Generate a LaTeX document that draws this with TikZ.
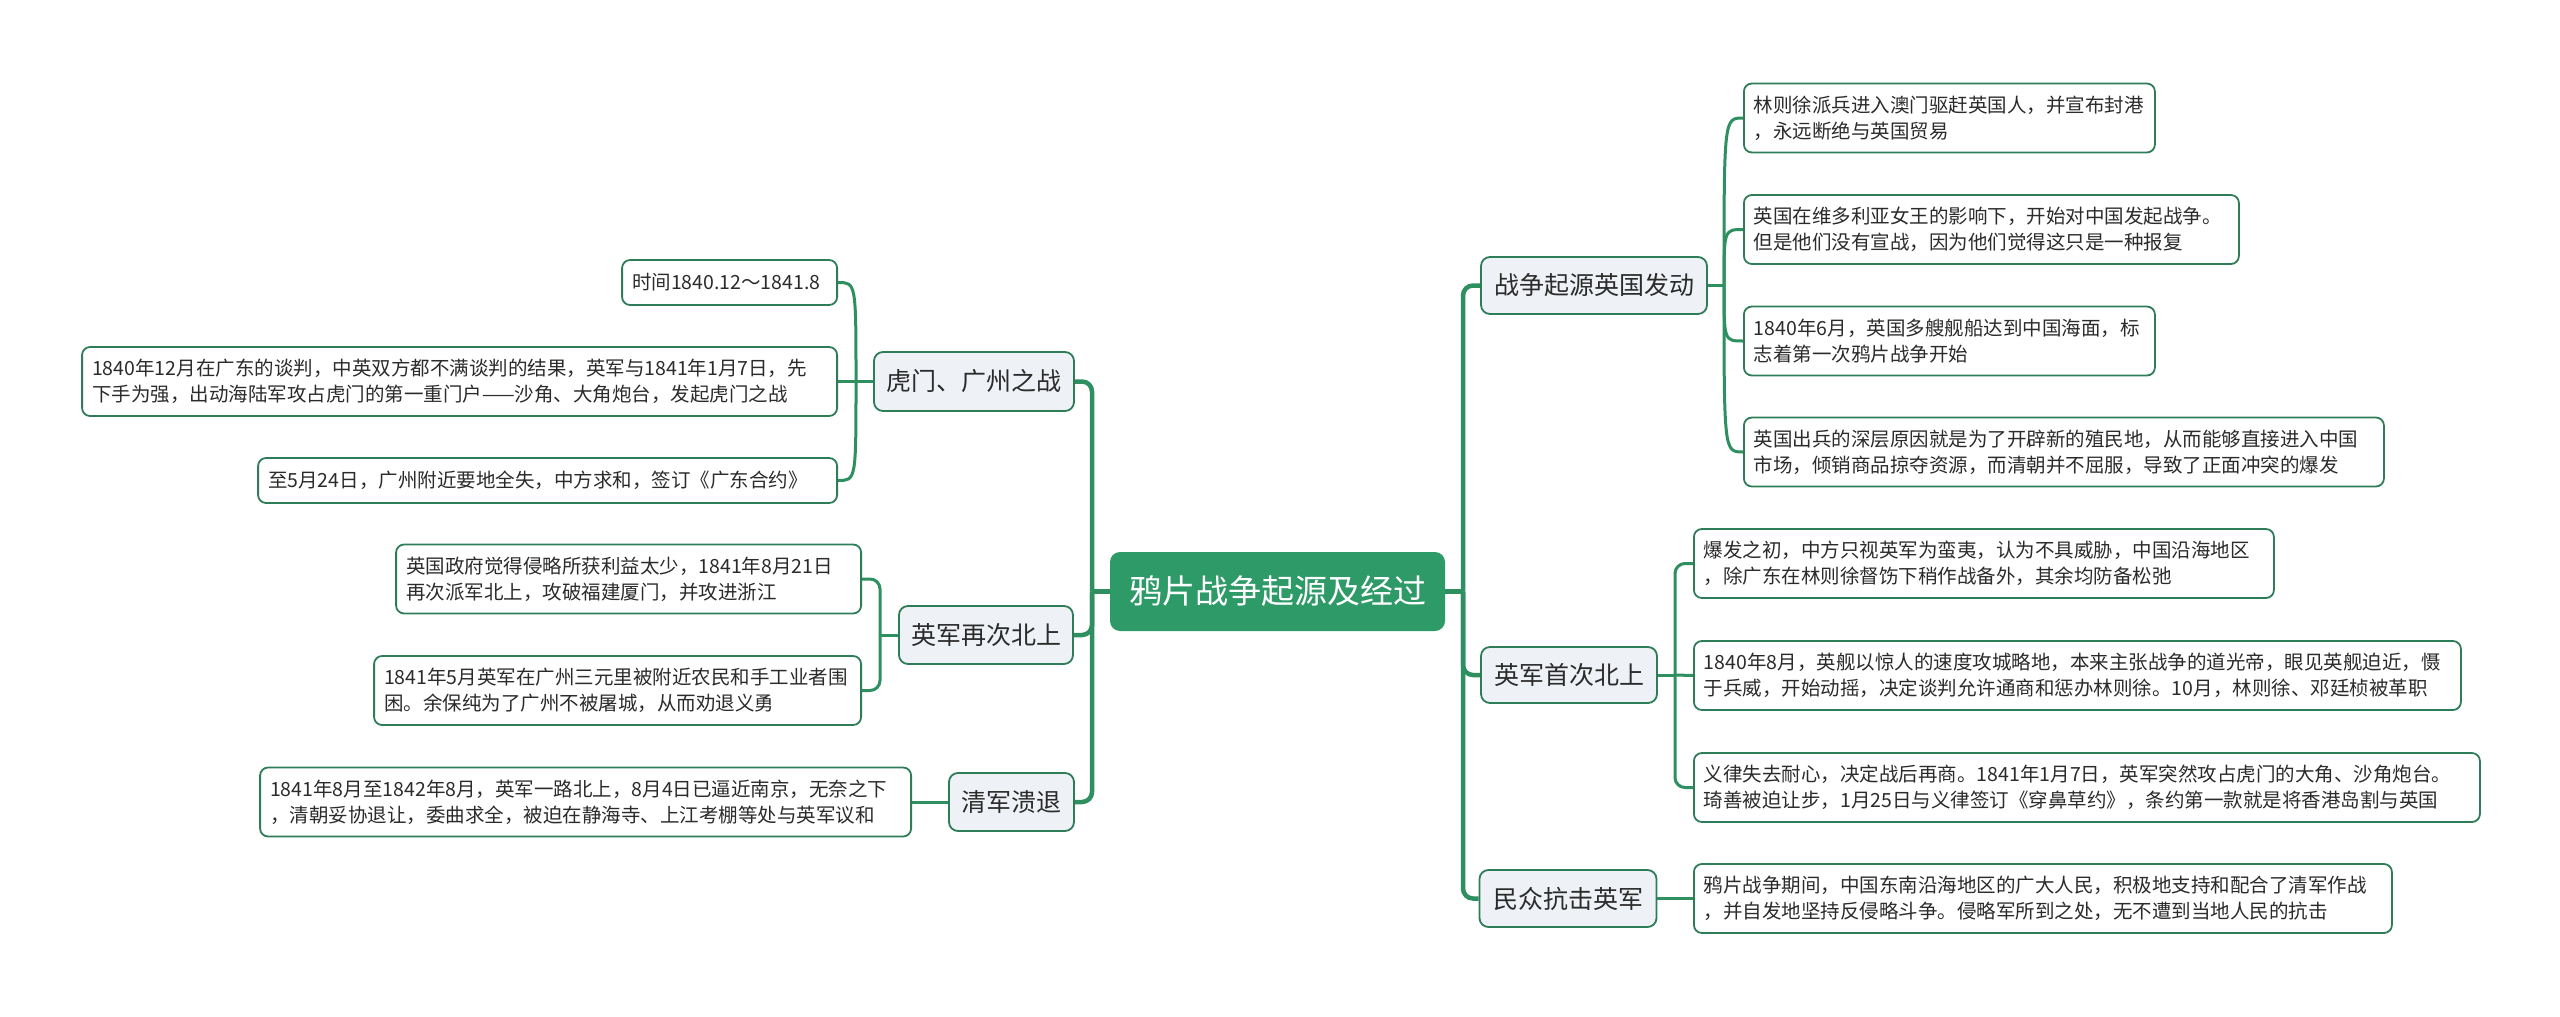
\documentclass[tikz,border=0pt]{standalone}
\usepackage{fontspec}
\setmainfont{Noto Sans CJK SC}
\definecolor{lg}{HTML}{2E8F60}
\definecolor{bd}{HTML}{2F7D58}
\definecolor{cf}{HTML}{2E9A68}
\definecolor{lf}{HTML}{EEF1F5}
\definecolor{tx}{HTML}{2B2B2B}
\pgfdeclarelayer{bg}
\pgfsetlayers{bg,main}
\tikzset{
  leaf/.style={draw=bd, line width=1.8pt, rounded corners=8pt, fill=white, align=left,
    inner xsep=10pt, inner ysep=0pt, minimum height=69pt,
    font=\fontsize{19.5}{26}\selectfont, text=tx, anchor=west},
  leafr/.style={leaf, anchor=east},
  topic/.style={draw=bd, line width=1.8pt, rounded corners=9pt, fill=lf, inner sep=0pt,
    font=\fontsize{25}{30}\selectfont, text=tx},
  rootnode/.style={fill=cf, rounded corners=10pt, inner sep=0pt,
    font=\fontsize{33}{40}\selectfont, text=white, minimum width=335pt, minimum height=79pt},
  trunk/.style={draw=lg, line width=4.5pt, rounded corners=10pt},
  twig/.style={draw=lg, line width=3pt},
  twigr/.style={twig, rounded corners=10pt},
}
\begin{document}
\begin{tikzpicture}[x=1pt,y=-1pt]
\useasboundingbox (0,0) rectangle (2560,1017);

% root
\node[rootnode] (C) at (1277.5,591.5) {鸦片战争起源及经过};

% right topics
\node[topic, minimum width=226pt, minimum height=57pt] (R1) at (1594,285.5) {战争起源英国发动};
\node[topic, minimum width=176pt, minimum height=56pt] (R2) at (1569,675) {英军首次北上};
\node[topic, minimum width=177pt, minimum height=57pt] (R3) at (1568,898.5) {民众抗击英军};

% left topics
\node[topic, minimum width=200pt, minimum height=59pt] (L1) at (974,381.5) {虎门、广州之战};
\node[topic, minimum width=174pt, minimum height=58pt] (L2) at (986,635) {英军再次北上};
\node[topic, minimum width=125pt, minimum height=58pt] (L3) at (1011.5,802) {清军溃退};

% right leaves
\node[leaf, text width=391pt] (R1a) at (1743,118) {林则徐派兵进入澳门驱赶英国人，并宣布封港\\，永远断绝与英国贸易};
\node[leaf, text width=475pt] (R1b) at (1743,229.5) {英国在维多利亚女王的影响下，开始对中国发起战争。\\但是他们没有宣战，因为他们觉得这只是一种报复};
\node[leaf, text width=391pt] (R1c) at (1743,341) {1840年6月，英国多艘舰船达到中国海面，标\\志着第一次鸦片战争开始};
\node[leaf, text width=620pt] (R1d) at (1743,452) {英国出兵的深层原因就是为了开辟新的殖民地，从而能够直接进入中国\\市场，倾销商品掠夺资源，而清朝并不屈服，导致了正面冲突的爆发};

\node[leaf, text width=560pt] (R2a) at (1693,563.5) {爆发之初，中方只视英军为蛮夷，认为不具威胁，中国沿海地区\\，除广东在林则徐督饬下稍作战备外，其余均防备松弛};
\node[leaf, text width=747pt] (R2b) at (1693,675.5) {1840年8月，英舰以惊人的速度攻城略地，本来主张战争的道光帝，眼见英舰迫近，慑\\于兵威，开始动摇，决定谈判允许通商和惩办林则徐。10月，林则徐、邓廷桢被革职};
\node[leaf, text width=766pt] (R2c) at (1693,787.5) {义律失去耐心，决定战后再商。1841年1月7日，英军突然攻占虎门的大角、沙角炮台。\\琦善被迫让步，1月25日与义律签订《穿鼻草约》，条约第一款就是将香港岛割与英国};

\node[leaf, text width=678pt] (R3a) at (1693,898.5) {鸦片战争期间，中国东南沿海地区的广大人民，积极地支持和配合了清军作战\\，并自发地坚持反侵略斗争。侵略军所到之处，无不遭到当地人民的抗击};

% left leaves
\node[leafr, text width=195pt, minimum height=45pt] (L1a) at (838,282.5) {时间1840.12～1841.8};
\node[leafr, text width=735pt] (L1b) at (838,381.5) {1840年12月在广东的谈判，中英双方都不满谈判的结果，英军与1841年1月7日，先\\下手为强，出动海陆军攻占虎门的第一重门户——沙角、大角炮台，发起虎门之战};
\node[leafr, text width=559pt, minimum height=45pt] (L1c) at (838,480.5) {至5月24日，广州附近要地全失，中方求和，签订《广东合约》};

\node[leafr, text width=445pt] (L2a) at (862,579) {英国政府觉得侵略所获利益太少，1841年8月21日\\再次派军北上，攻破福建厦门，并攻进浙江};
\node[leafr, text width=467pt] (L2b) at (862,690.5) {1841年5月英军在广州三元里被附近农民和手工业者围\\困。余保纯为了广州不被屠城，从而劝退义勇};

\node[leafr, text width=631pt] (L3a) at (912,802) {1841年8月至1842年8月，英军一路北上，8月4日已逼近南京，无奈之下\\，清朝妥协退让，委曲求全，被迫在静海寺、上江考棚等处与英军议和};

% junctions
\coordinate (rj) at (1463,591.5);
\coordinate (lj) at (1092,591.5);
\coordinate (r1j) at (1724,285.5);
\coordinate (r2j) at (1675,675);
\coordinate (l1j) at (856,381.5);
\coordinate (l2j) at (880,635);

\begin{pgfonlayer}{bg}
\fill[white] (0,0) rectangle (2560,1017);
% trunks
\draw[trunk] (C.east) -- (rj);
\draw[trunk] (rj) |- (R1.west);
\draw[trunk] (rj) |- (R2.west);
\draw[trunk] (rj) |- (R3.west);
\draw[trunk] (C.west) -- (lj);
\draw[trunk] (lj) |- (L1.east);
\draw[trunk] (lj) |- (L2.east);
\draw[trunk] (lj) |- (L3.east);
% right twigs
\draw[twig] (R1.east) -- (r1j);
\draw[twig] (r1j) .. controls (r1j |- R1a.west) .. (R1a.west);
\draw[twig] (r1j) .. controls (r1j |- R1b.west) .. (R1b.west);
\draw[twig] (r1j) .. controls (r1j |- R1c.west) .. (R1c.west);
\draw[twig] (r1j) .. controls (r1j |- R1d.west) .. (R1d.west);
\draw[twig] (R2.east) -- (r2j);
\draw[twigr] (r2j) |- (R2a.west);
\draw[twig] (r2j) -- (R2b.west);
\draw[twigr] (r2j) |- (R2c.west);
\draw[twig] (R3.east) -- (R3a.west);
% left twigs
\draw[twig] (L1.west) -- (l1j);
\draw[twig] (l1j) .. controls (l1j |- L1a.east) .. (L1a.east);
\draw[twig] (l1j) -- (L1b.east);
\draw[twig] (l1j) .. controls (l1j |- L1c.east) .. (L1c.east);
\draw[twig] (L2.west) -- (l2j);
\draw[twigr] (l2j) |- (L2a.east);
\draw[twigr] (l2j) |- (L2b.east);
\draw[twig] (L3.west) -- (L3a.east);
\end{pgfonlayer}
\end{tikzpicture}
\end{document}
